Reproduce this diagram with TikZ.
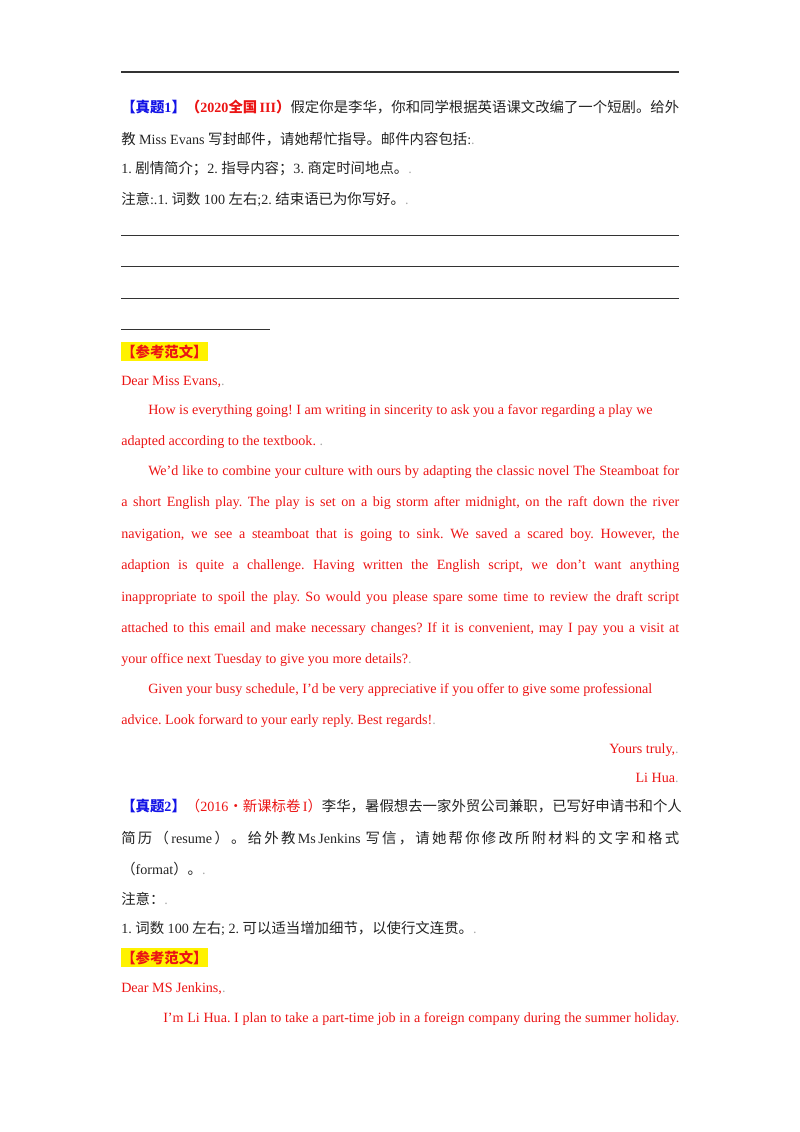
\documentclass[tikz,border=0pt]{standalone}
\usepackage{fontspec}
\setmainfont{Liberation Serif}
\newfontfamily\cjk{Noto Sans CJK SC}[Scale=1.02]
\newcommand\C[1]{{\cjk #1}}
\newdimen\pxu \pxu=0.744pt
\frenchspacing
\definecolor{tx}{RGB}{35,35,35}
\definecolor{rd}{RGB}{235,20,20}
\definecolor{bl}{RGB}{20,20,230}
\definecolor{pm}{RGB}{170,170,170}
\newcommand\pmk{{\color{pm}.}}
\tikzset{
 ln/.style={anchor=base west,inner sep=0pt,font=\fontsize{10.5pt}{12pt}\selectfont,text=tx},
 rl/.style={anchor=base east,inner sep=0pt,font=\fontsize{10.5pt}{12pt}\selectfont,text=rd},
 red/.style={text=rd},
 rule/.style={line width=0.5pt,draw=black!80}
}
\begin{document}
\begin{tikzpicture}[x=\pxu,y=-\pxu]
\useasboundingbox (0,0) rectangle (800,1132);
\draw[rule,line width=1pt] (121,72) coordinate (r0a) -- (679,72) coordinate (r0b);
\node[ln] (t1) at (121,112) {\makebox[558\pxu][s]{{\color{bl}\bfseries\C{【真题}1\C{】}}{\color{rd}\bfseries\C{（}2020\C{全国} III\C{）}}\C{假定你是李华，你和同学根据英语课文改编了一个短剧。给外}}};
\node[ln] (t2) at (121,144) {\C{教} Miss Evans \C{写封邮件，请她帮忙指导。邮件内容包括}:\pmk};
\node[ln] (t3) at (121,173) {1.\ \C{剧情简介；}2.\ \C{指导内容；}3.\ \C{商定时间地点。}\pmk};
\node[ln] (t4) at (121,204) {\C{注意}:.1.\ \C{词数} 100 \C{左右};2.\ \C{结束语已为你写好。}\pmk};
\draw[rule] (121,235) coordinate (r1a) -- (679,235) coordinate (r1b);
\draw[rule] (121,266) coordinate (r2a) -- (679,266) coordinate (r2b);
\draw[rule] (121,298) coordinate (r3a) -- (679,298) coordinate (r3b);
\draw[rule] (121,329) coordinate (r4a) -- (270,329) coordinate (r4b);
\node[ln,fill=yellow,inner ysep=2pt] (h1) at (121,357) {{\color{rd}\bfseries\C{【参考范文】}}};
\node[ln,red] (d1) at (121,385) {Dear Miss Evans,\pmk};
\node[ln,red] (p1) at (148,414) {How is everything going! I am writing in sincerity to ask you a favor regarding a play we};
\node[ln,red] (p2) at (121,445) {adapted according to the textbook.\ \pmk};
\node[ln,red] (p3) at (148,475) {\makebox[531\pxu][s]{We’d like to combine your culture with ours by adapting the classic novel The Steamboat for}};
\node[ln,red] (p4) at (121,506) {\makebox[558\pxu][s]{a short English play. The play is set on a big storm after midnight, on the raft down the river}};
\node[ln,red] (p5) at (121,538) {\makebox[558\pxu][s]{navigation, we see a steamboat that is going to sink. We saved a scared boy. However, the}};
\node[ln,red] (p6) at (121,569) {\makebox[558\pxu][s]{adaption is quite a challenge. Having written the English script, we don’t want anything}};
\node[ln,red] (p7) at (121,601) {\makebox[558\pxu][s]{inappropriate to spoil the play. So would you please spare some time to review the draft script}};
\node[ln,red] (p8) at (121,632) {\makebox[558\pxu][s]{attached to this email and make necessary changes? If it is convenient, may I pay you a visit at}};
\node[ln,red] (p9) at (121,663) {your office next Tuesday to give you more details?\pmk};
\node[ln,red] (p10) at (148,693) {Given your busy schedule, I’d be very appreciative if you offer to give some professional};
\node[ln,red] (p11) at (121,724) {advice. Look forward to your early reply. Best regards!\pmk};
\node[rl] (s1) at (679,753) {Yours truly,\pmk};
\node[rl] (s2) at (679,782) {Li Hua\pmk};
\node[ln] (t5) at (121,811) {\makebox[558\pxu][s]{{\color{bl}\bfseries\C{【真题}2\C{】}}{\color{rd}\C{（}2016\C{·新课标卷} I\C{）}}\C{李华，暑假想去一家外贸公司兼职，已写好申请书和个人}}};
\node[ln] (t6) at (121,843) {\makebox[558\pxu][s]{\C{简 历 （} resume \C{） 。 给 外 教} Ms Jenkins \ \C{写 信 ， 请 她 帮 你 修 改 所 附 材 料 的 文 字 和 格 式}}};
\node[ln] (t7) at (121,874) {\C{（}format\C{）。}\pmk};
\node[ln] (t8) at (121,904) {\C{注意：}\pmk};
\node[ln] (t9) at (121,933) {1.\ \C{词数} 100 \C{左右}; 2.\ \C{可以适当增加细节，以使行文连贯。}\pmk};
\node[ln,fill=yellow,inner ysep=2pt] (h2) at (121,963) {{\color{rd}\bfseries\C{【参考范文】}}};
\node[ln,red] (d2) at (121,992) {Dear MS Jenkins,\pmk};
\node[ln,red] (q1) at (163,1022) {\makebox[516\pxu][s]{I’m Li Hua. I plan to take a part-time job in a foreign company during the summer holiday.}};
\end{tikzpicture}
\end{document}
